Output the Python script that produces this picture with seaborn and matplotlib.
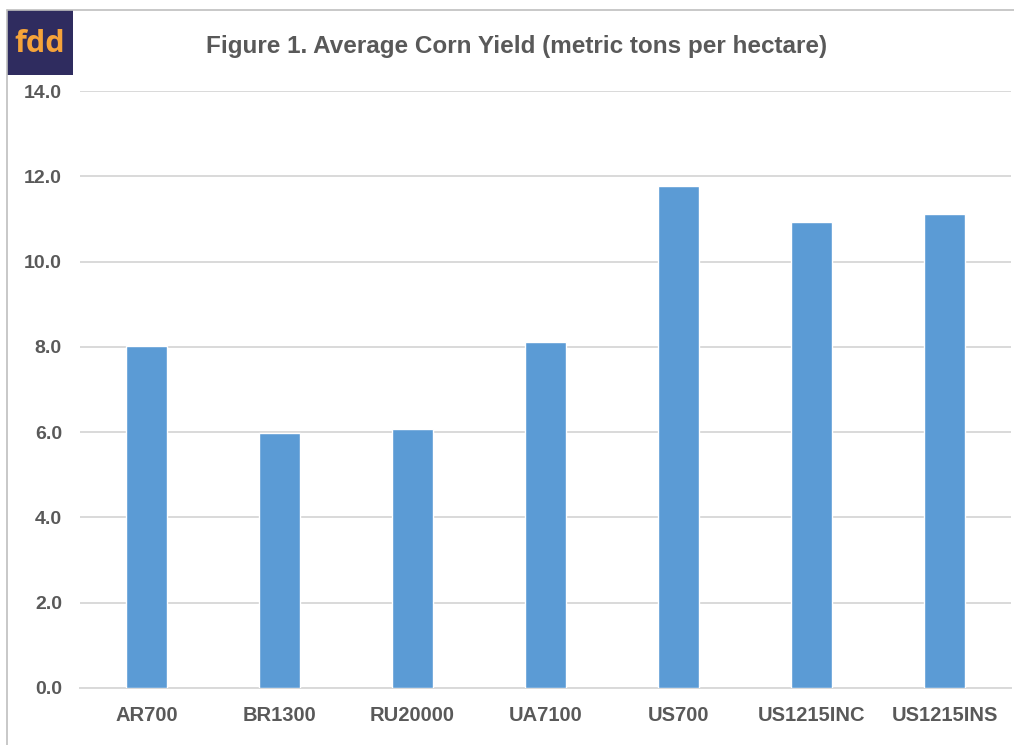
import matplotlib
matplotlib.use("Agg")
import matplotlib.pyplot as plt
import seaborn as sns
import pandas as pd
from matplotlib.patches import Rectangle
from matplotlib.lines import Line2D

# Average corn yield by farm, metric tons per hectare
farms = ["AR700", "BR1300", "RU20000", "UA7100", "US700", "US1215INC", "US1215INS"]
yields = [8.02, 5.99, 6.08, 8.12, 11.78, 10.92, 11.12]
y_ticks = [0.0, 2.0, 4.0, 6.0, 8.0, 10.0, 12.0, 14.0]

df = pd.DataFrame({"farm": farms, "yield": yields})

sns.set_theme(style="white")
plt.rcParams["font.family"] = ["Liberation Sans", "DejaVu Sans"]

text_gray = "#595959"
grid_gray = "#D9D9D9"
bar_blue = "#5B9BD5"

fig = plt.figure(figsize=(10.14, 7.45), dpi=100)
ax = fig.add_axes([80 / 1014, 1 - 688 / 745, 931 / 1014, 597 / 745])

sns.barplot(data=df, x="farm", y="yield", color=bar_blue, saturation=1,
            width=0.31, ax=ax, zorder=3)

ax.set_ylim(0, 14)
ax.set_xlim(-0.5, len(farms) - 0.5)
ax.set_yticks(y_ticks)
ax.set_yticklabels([f"{v:.1f}" for v in y_ticks])
ax.yaxis.grid(True, color=grid_gray, linewidth=1.4, zorder=0)
ax.xaxis.grid(False)
for side in ["top", "right", "left"]:
    ax.spines[side].set_visible(False)
ax.spines["bottom"].set_color(grid_gray)
ax.spines["bottom"].set_linewidth(1.4)
ax.set_xlabel("")
ax.set_ylabel("")
ax.tick_params(axis="both", length=0)
ax.tick_params(axis="y", pad=13)
ax.tick_params(axis="x", pad=13)
for lab in ax.get_yticklabels():
    lab.set_fontsize(14)
    lab.set_fontweight("bold")
    lab.set_color(text_gray)
for lab in ax.get_xticklabels():
    lab.set_fontsize(14.5)
    lab.set_fontweight("bold")
    lab.set_color(text_gray)

fig.text(517 / 1014, 1 - 47 / 745,
         "Figure 1. Average Corn Yield (metric tons per hectare)",
         ha="center", va="center", fontsize=17.5, fontweight="bold",
         color=text_gray)

# Frame lines along the top and left of the figure
fig.add_artist(Line2D([7 / 1014, 1], [1 - 10 / 745, 1 - 10 / 745],
                      transform=fig.transFigure, color="#BFBFBF", linewidth=1.2))
fig.add_artist(Line2D([7 / 1014, 7 / 1014], [0, 1 - 10 / 745],
                      transform=fig.transFigure, color="#BFBFBF", linewidth=1.2))

# fdd logo badge
fig.add_artist(Rectangle((7 / 1014, 1 - 75 / 745), 66 / 1014, 65 / 745,
                         transform=fig.transFigure, facecolor="#2F2C5F",
                         edgecolor="none"))
fig.text(39.5 / 1014, 1 - 44 / 745, "fdd", ha="center", va="center",
         fontsize=22, fontweight="bold", color="#F5A33A",
         family=["Open Sans", "DejaVu Sans"])

fig.savefig("out.png", dpi=100)
